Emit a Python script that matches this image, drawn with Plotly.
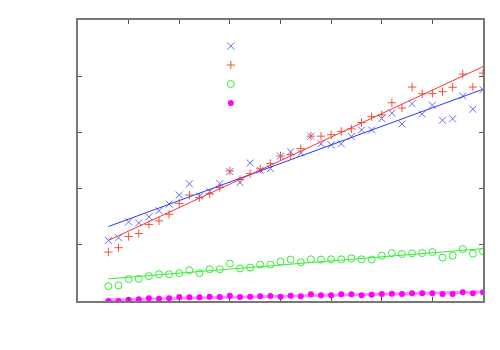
import plotly.graph_objects as go

# x positions of the samples (axis runs 0..8, ticks every 1)
x_vals = [round(0.6 + 0.2 * i, 1) for i in range(38)]

blue_vals = [1.078, 1.125, 1.408, 1.390, 1.496, 1.608, 1.723, 1.885, 2.085, 1.864,
             1.947, 2.088, 2.302, 2.108, 2.456, 2.327, 2.355, 2.580, 2.655, 2.633,
             2.933, 2.797, 2.779, 2.797, 2.928, 3.044, 3.044, 3.246, 3.343, 3.150,
             3.511, 3.327, 3.484, 3.216, 3.242, 3.648, 3.413, 3.760]
red_vals = [0.871, 0.949, 1.148, 1.201, 1.360, 1.426, 1.542, 1.737, 1.885, 1.843,
            1.908, 2.019, 2.314, 2.161, 2.267, 2.350, 2.447, 2.580, 2.602, 2.712,
            2.933, 2.933, 2.959, 3.018, 3.062, 3.175, 3.281, 3.313, 3.528, 3.433,
            3.807, 3.687, 3.693, 3.724, 3.804, 4.037, 3.807, 4.055]
green_vals = [0.265, 0.277, 0.389, 0.394, 0.442, 0.477, 0.477, 0.495, 0.548, 0.495,
              0.565, 0.565, 0.666, 0.578, 0.595, 0.648, 0.648, 0.701, 0.737, 0.689,
              0.742, 0.737, 0.742, 0.742, 0.760, 0.742, 0.737, 0.807, 0.853, 0.836,
              0.848, 0.853, 0.871, 0.772, 0.807, 0.924, 0.843, 0.883]
magenta_vals = [0.0, 0.0, 0.023, 0.030, 0.048, 0.041, 0.048, 0.071, 0.065, 0.065,
                0.076, 0.071, 0.094, 0.071, 0.076, 0.083, 0.088, 0.076, 0.094, 0.083,
                0.118, 0.101, 0.101, 0.118, 0.118, 0.101, 0.111, 0.124, 0.129, 0.124,
                0.136, 0.136, 0.136, 0.124, 0.124, 0.154, 0.136, 0.154]

# fitted lines, read at both ends
fit_x = [0.6, 8.0]
fit_blue = [1.325, 3.768]
fit_red = [1.078, 4.17]
fit_green = [0.394, 0.931]
fit_magenta = [0.02, 0.159]

BLUE = '#3333ff'
RED = '#ff3333'
GREEN = '#33ee33'
MAGENTA = '#ff00ff'

fig = go.Figure()

# point series (these make the legend)
fig.add_trace(go.Scatter(x=x_vals, y=blue_vals, mode='markers', name=' ',
                         marker=dict(symbol='x-thin-open', size=7, line=dict(color=BLUE, width=1))))
fig.add_trace(go.Scatter(x=x_vals, y=red_vals, mode='markers', name=' ',
                         marker=dict(symbol='cross-thin-open', size=6, line=dict(color=RED, width=1))))
fig.add_trace(go.Scatter(x=x_vals, y=green_vals, mode='markers', name=' ',
                         marker=dict(symbol='circle-open', size=7, color=GREEN, line=dict(color=GREEN, width=1))))
fig.add_trace(go.Scatter(x=x_vals, y=magenta_vals, mode='markers', name=' ',
                         marker=dict(symbol='circle', size=6, color=MAGENTA, line=dict(width=0))))

# fit lines
for ys, col, w in [(fit_blue, BLUE, 1), (fit_red, RED, 1), (fit_green, GREEN, 1),
                   (fit_magenta, 'rgba(255,0,255,0.45)', 3)]:
    fig.add_trace(go.Scatter(x=fit_x, y=ys, mode='lines', showlegend=False,
                             line=dict(color=col, width=w)))

axis_style = dict(showgrid=False, zeroline=False, showticklabels=False,
                  ticks='inside', ticklen=4, tickcolor='#555', tickwidth=1,
                  showline=True, linecolor='#777', linewidth=2, mirror='ticks')

fig.update_xaxes(range=[0, 8], dtick=1, **axis_style)
fig.update_yaxes(range=[0, 5], dtick=1, **axis_style)

# the page body adds 8px, so margins are shifted to land the frame where it belongs
fig.update_layout(
    width=500, height=350,
    margin=dict(l=70, r=25, t=10, b=57),
    plot_bgcolor='white', paper_bgcolor='white',
    font=dict(family='DejaVu Sans', size=10),
    legend=dict(x=0.328, y=0.959, xanchor='left', yanchor='top',
                bgcolor='rgba(0,0,0,0)', borderwidth=0, tracegroupgap=0,
                itemwidth=30),
)

fig.write_html("out.html")
